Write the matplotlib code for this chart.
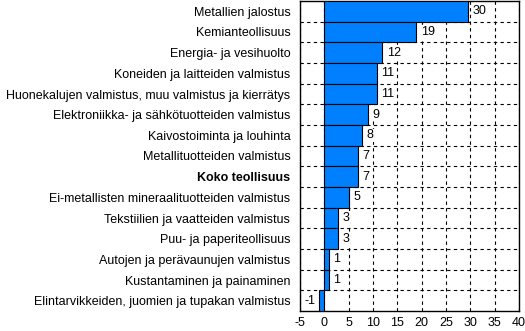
import matplotlib.pyplot as plt

categories = ["Metallien jalostus", "Kemianteollisuus", "Energia- ja vesihuolto",
              "Koneiden ja laitteiden valmistus",
              "Huonekalujen valmistus, muu valmistus ja kierrätys",
              "Elektroniikka- ja sähkötuotteiden valmistus", "Kaivostoiminta ja louhinta",
              "Metallituotteiden valmistus", "Koko teollisuus",
              "Ei-metallisten mineraalituotteiden valmistus",
              "Tekstiilien ja vaatteiden valmistus", "Puu- ja paperiteollisuus",
              "Autojen ja perävaunujen valmistus", "Kustantaminen ja painaminen",
              "Elintarvikkeiden, juomien ja tupakan valmistus"]
values = [29.6, 18.9, 11.9, 10.8, 10.8, 8.9, 7.8, 7.0, 7.0, 5.0, 2.9, 2.9, 0.9, 0.9, -1.0]
labels = ["30", "19", "12", "11", "11", "9", "8", "7", "7", "5", "3", "3", "1", "1", "-1"]

plt.rcParams['font.family'] = ['Liberation Sans', 'DejaVu Sans']
plt.rcParams['axes.unicode_minus'] = False
fig = plt.figure(figsize=(5.25, 3.31), dpi=100)
ax = fig.add_axes([300/525, 20/331, 219/525, 310/331])

y = list(range(len(categories)))
ax.barh(y, values, height=1.0, color="#0080FF", edgecolor="black", linewidth=0.8, zorder=3)
ax.set_ylim(len(categories) - 0.5, -0.5)
ax.set_xlim(-5, 40)
ax.set_xticks(range(-5, 41, 5))
ax.set_yticks(y)
ax.set_yticklabels(categories, fontsize=9)
for t in ax.get_yticklabels():
    if t.get_text() == "Koko teollisuus":
        t.set_fontweight("bold")
ax.tick_params(axis="both", length=0, labelsize=9)
ax.tick_params(axis="y", pad=7)
ax.tick_params(axis="x", pad=4)

ax.set_yticks([i + 0.5 for i in y[:-1]], minor=True)
ax.grid(axis="x", which="major", color="black", linestyle=(0, (3, 3)), linewidth=0.8, zorder=1)
ax.grid(axis="y", which="minor", color="black", linestyle=(0, (3, 3)), linewidth=0.8, zorder=1)
ax.tick_params(axis="y", which="minor", length=0)

for i, (v, l) in enumerate(zip(values, labels)):
    if v >= 0:
        ax.text(v + 0.9, i, l, va="center", ha="left", fontsize=9, zorder=4,
                bbox=dict(facecolor="white", edgecolor="none", pad=0.5))
    else:
        ax.text(v - 0.9, i, l, va="center", ha="right", fontsize=9, zorder=4,
                bbox=dict(facecolor="white", edgecolor="none", pad=0.5))

for s in ax.spines.values():
    s.set_linewidth(1.0)

fig.savefig("out.png", dpi=100)
